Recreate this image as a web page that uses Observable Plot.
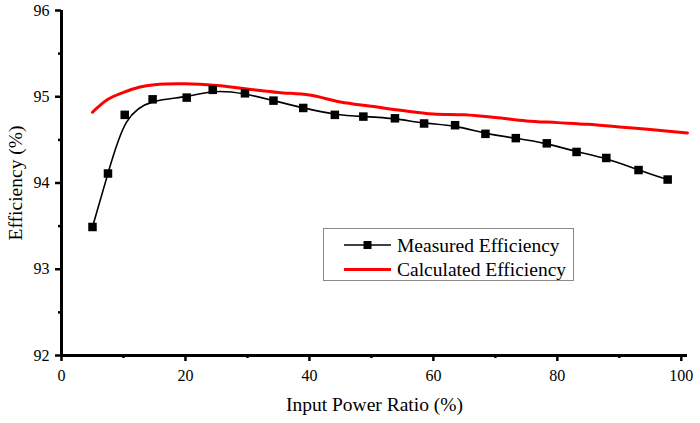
<!DOCTYPE html>
<html>
<head>
<meta charset="utf-8">
<script src="https://cdn.jsdelivr.net/npm/d3@7"></script>
<script src="https://cdn.jsdelivr.net/npm/@observablehq/plot@0.6"></script>
<style>
  html, body { margin: 0; padding: 0; background: #fff; }
  #wrap { position: relative; width: 700px; height: 423px; font-family: "Liberation Serif", "Times New Roman", serif; }
  #legend { position: absolute; left: 323px; top: 228px; width: 251px; height: 53px; border: 1px solid #8a8a8a; background: #fff; box-sizing: border-box; }
  #legend svg { position: absolute; left: 0; top: 0; }
  #wrap svg text { font-family: "Liberation Serif", "Times New Roman", serif !important; fill: #000; }
</style>
</head>
<body>
<div id="wrap"></div>
<script>
// Measured efficiency (black squares)
const measuredX = [5, 7.5, 10.2, 14.7, 20.2, 24.4, 29.6, 34.2, 39, 44.1, 48.7, 53.8, 58.5, 63.5, 68.4, 73.3, 78.3, 83.1, 87.9, 93.1, 97.8];
const measuredY = [93.49, 94.11, 94.79, 94.97, 94.99, 95.08, 95.04, 94.955, 94.87, 94.79, 94.77, 94.75, 94.69, 94.67, 94.57, 94.52, 94.46, 94.36, 94.29, 94.15, 94.04];
// Calculated efficiency (red curve)
const calcX = [5, 7.5, 10, 12.5, 15, 20, 25, 30, 35, 40, 45, 50, 55, 60, 65, 70, 75, 80, 85, 90, 95, 101];
const calcY = [94.82, 94.97, 95.05, 95.11, 95.14, 95.15, 95.13, 95.09, 95.05, 95.02, 94.94, 94.89, 94.84, 94.80, 94.79, 94.76, 94.72, 94.70, 94.68, 94.65, 94.62, 94.58];
// Ticks
const xTicks = [0, 20, 40, 60, 80, 100];
const xMinor = [10, 30, 50, 70, 90];
const yTicks = [92, 93, 94, 95, 96];
const yMinor = [92.5, 93.5, 94.5, 95.5];
const seriesNames = ["Measured Efficiency", "Calculated Efficiency"];

const measured = measuredX.map((x, i) => ({x, y: measuredY[i]}));
const calc = calcX.map((x, i) => ({x, y: calcY[i]}));

const font = "Liberation Serif";
const chart = Plot.plot({
  width: 700,
  height: 423,
  marginLeft: 61,
  marginRight: 13,
  marginTop: 10,
  marginBottom: 68,
  style: {fontFamily: font, fontSize: "16px", color: "#000", background: "#fff"},
  x: {domain: [0, 101]},
  y: {domain: [92, 96]},
  marks: [
    Plot.axisX({ticks: xMinor, tickSize: 3, strokeWidth: 2.5, text: null, label: null}),
    Plot.axisY({ticks: yMinor, tickSize: 3, strokeWidth: 2.5, text: null, label: null}),
    Plot.axisX({ticks: xTicks, tickSize: 6, tickPadding: 8, strokeWidth: 2.5,
      tickFormat: d3.format("d"),
      label: "Input Power Ratio (%)", labelAnchor: "center", labelArrow: "none", labelOffset: 55}),
    Plot.axisY({ticks: yTicks, tickSize: 6, tickPadding: 6, strokeWidth: 2.5,
      tickFormat: d3.format("d"),
      label: "Efficiency (%)", labelAnchor: "center", labelArrow: "none", labelOffset: 53}),
    Plot.ruleY([92], {stroke: "#000", strokeWidth: 3}),
    Plot.ruleX([0], {stroke: "#000", strokeWidth: 3}),
    Plot.line(calc, {x: "x", y: "y", stroke: "#ff0000", strokeWidth: 3, curve: "catmull-rom"}),
    Plot.line(measured, {x: "x", y: "y", stroke: "#000", strokeWidth: 1.6, curve: "basis"}),
    Plot.dot(measured, {x: "x", y: "y", symbol: "square", r: 4.8, fill: "#000", stroke: "none"})
  ]
});
const sel = d3.select(chart);
sel.selectAll("g[aria-label$='tick label']").attr("font-size", 16).style("font-size", "16px");
sel.selectAll("g[aria-label$='tick label'] text").style("font-size", "16px");
sel.selectAll("g[aria-label$='axis label'], g[aria-label$='axis label'] text").style("font-size", "19.5px");
sel.selectAll("g[aria-label$='tick']").attr("stroke-width", 2.5).attr("stroke", "#000");
sel.selectAll("g[aria-label$='tick'] path").attr("stroke-width", 2.5).attr("stroke", "#000");
document.getElementById("wrap").appendChild(chart);

// Legend
const legend = document.createElement("div");
legend.id = "legend";
const ls = d3.create("svg").attr("width", 251).attr("height", 53);
const items = [
  {name: seriesNames[0], color: "#000", w: 1.6, marker: true},
  {name: seriesNames[1], color: "#ff0000", w: 3, marker: false}
];
items.forEach((d, i) => {
  const cy = 16 + i * 24.5;
  ls.append("line").attr("x1", 20).attr("x2", 67).attr("y1", cy).attr("y2", cy)
    .attr("stroke", d.color).attr("stroke-width", d.w);
  if (d.marker) ls.append("rect").attr("x", 39.5).attr("y", cy - 4).attr("width", 8).attr("height", 8).attr("fill", "#000");
  ls.append("text").attr("x", 73).attr("y", cy).attr("dy", "0.35em")
    .attr("font-size", 19.5).attr("fill", "#000").text(d.name);
});
legend.appendChild(ls.node());
document.getElementById("wrap").appendChild(legend);
</script>
</body>
</html>
